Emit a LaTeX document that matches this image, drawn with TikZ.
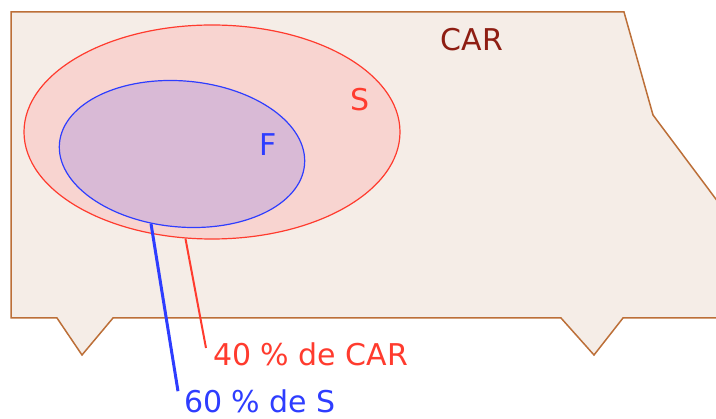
\documentclass[tikz,border=0pt]{standalone}
\usepackage{fontspec}
\setmainfont{DejaVu Sans}
\usetikzlibrary{positioning,shapes.geometric}
\definecolor{carfill}{HTML}{F5EDE7}
\definecolor{carline}{HTML}{BC6F38}
\definecolor{cartext}{HTML}{8E1D12}
\definecolor{sfill}{HTML}{F8D4D0}
\definecolor{sline}{HTML}{FF3B2E}
\definecolor{ffill}{HTML}{D9BAD6}
\definecolor{fline}{HTML}{2E3DFF}
\tikzset{
	txt/.style={font=\fontsize{30}{34}\selectfont, inner sep=0pt},
	setS/.style={ellipse, draw=sline, fill=sfill, line width=1.2pt, inner sep=0pt},
	setF/.style={ellipse, draw=fline, fill=ffill, line width=1.2pt, inner sep=0pt},
}

\begin{document}
\begin{tikzpicture}[x=1pt,y=-1pt]
	\useasboundingbox (0,0) rectangle (716,419);
	% car body, clipped at the right edge
	\begin{scope}
		\clip (0,0) rectangle (716,419);
		\draw[carline, fill=carfill, line width=1.5pt]
			(11,12) -- (624,12) -- (653,115) -- (760,258) -- (760,318)
			-- (623,318) -- (594,355) -- (561,318)
			-- (113,318) -- (82,355) -- (57,318) -- (11,318) -- cycle;
	\end{scope}
	% sets
	\node[setS, minimum width=376pt, minimum height=214pt] (S) at (212,132) {};
	\node[setF, rotate=-5, minimum width=246pt, minimum height=146pt] (F) at (182,154) {};
	\node[txt, text=cartext] (car) at (472,40) {CAR};
	\node[txt, text=sline] (nameS) at (360,100) {S};
	\node[txt, text=fline] (nameF) at (268,145) {F};
	% labels
	\node[txt, text=sline, anchor=west] (lblS) at (213,354) {40 \% de CAR};
	\node[txt, text=fline, anchor=west] (lblF) at (184,401) {60 \% de S};
	\draw[sline, line width=2pt] (S.256) -- ([xshift=-7pt,yshift=6pt]lblS.west);
	\draw[fline, line width=3pt] (F.251) -- ([xshift=-6pt,yshift=-2pt]lblF.north west);
\end{tikzpicture}
\end{document}
